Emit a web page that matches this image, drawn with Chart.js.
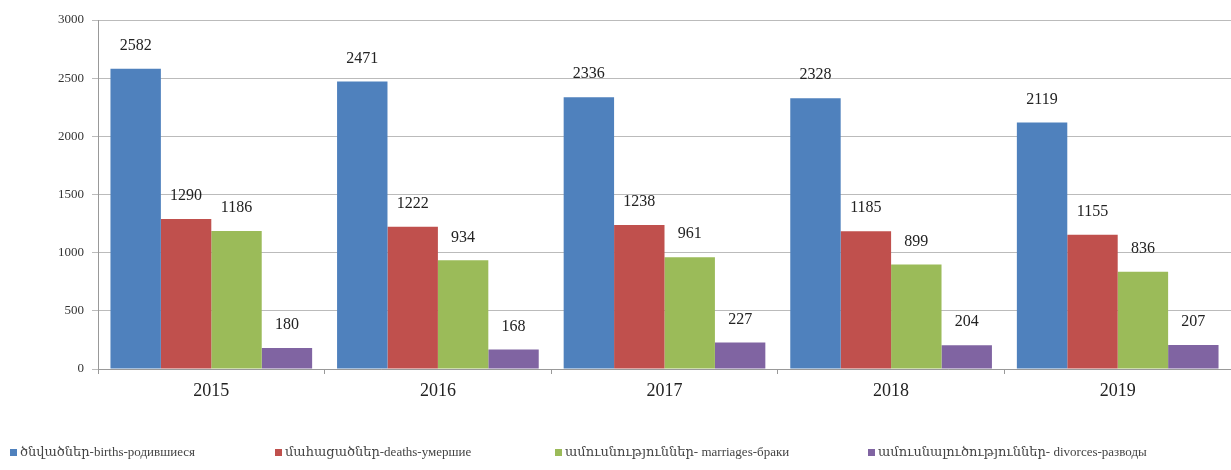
<!DOCTYPE html>
<html>
<head>
<meta charset="utf-8">
<script src="https://cdn.jsdelivr.net/npm/chart.js@4"></script>
<style>
  html, body { margin: 0; padding: 0; background: #fff; }
  #wrap { position: relative; width: 1231px; height: 470px; }
</style>
</head>
<body>
<div id="wrap"><canvas id="grafico"></canvas></div>
<script>
const anos = ['2015', '2016', '2017', '2018', '2019'];
const nascimentos = [2582, 2471, 2336, 2328, 2119];
const obitos = [1290, 1222, 1238, 1185, 1155];
const casamentos = [1186, 934, 961, 899, 836];
const divorcios = [180, 168, 227, 204, 207];
const rotulos = [
    'ծնվածներ-births-родившиеся',
    'մահացածներ-deaths-умершие',
    'ամուսնություններ- marriages-браки',
    'ամուսնալուծություններ- divorces-разводы'
];
const ticksY = [0, 500, 1000, 1500, 2000, 2500, 3000];

const fonteSerif = "'Liberation Serif', 'Times New Roman', 'DejaVu Serif', serif";

// rótulos de valor acima de cada barra
const valoresPlugin = {
    id: 'valores',
    afterDatasetsDraw(chart) {
        const ctx = chart.ctx;
        ctx.save();
        ctx.font = '16px ' + fonteSerif;
        ctx.fillStyle = '#222';
        ctx.textAlign = 'center';
        ctx.textBaseline = 'bottom';
        chart.data.datasets.forEach((ds, i) => {
            chart.getDatasetMeta(i).data.forEach((bar, j) => {
                ctx.fillText(ds.data[j], bar.x, bar.y - 15);
            });
        });
        ctx.restore();
    }
};

// legenda desenhada embaixo, com posições parecidas com o original
const legendaPlugin = {
    id: 'legenda',
    afterDraw(chart) {
        const ctx = chart.ctx;
        const posX = [10, 275, 555, 868];
        const y = 453;
        ctx.save();
        ctx.font = '13px ' + fonteSerif;
        ctx.textBaseline = 'middle';
        ctx.textAlign = 'left';
        chart.data.datasets.forEach((ds, i) => {
            ctx.fillStyle = ds.backgroundColor;
            ctx.fillRect(posX[i], y - 4, 7, 7);
            ctx.fillStyle = '#444';
            ctx.fillText(ds.label, posX[i] + 10, y);
        });
        ctx.restore();
    }
};

const ctx = document.getElementById('grafico');
new Chart(ctx, {
    type: 'bar',
    data: {
        labels: anos,
        datasets: [
            { label: rotulos[0], data: nascimentos, backgroundColor: '#4F81BD' },
            { label: rotulos[1], data: obitos, backgroundColor: '#C0504D' },
            { label: rotulos[2], data: casamentos, backgroundColor: '#9BBB59' },
            { label: rotulos[3], data: divorcios, backgroundColor: '#8064A2' }
        ]
    },
    options: {
        responsive: true,
        maintainAspectRatio: false,
        animation: false,
        layout: { padding: { top: 20, left: 0, right: 0, bottom: 61 } },
        datasets: { bar: { categoryPercentage: 0.89, barPercentage: 1.0 } },
        plugins: {
            tooltip: { enabled: false },
            legend: { display: false }
        },
        scales: {
            x: {
                grid: {
                    drawOnChartArea: false,
                    tickLength: 5,
                    color: '#999',
                    offset: true
                },
                border: { color: '#999' },
                ticks: {
                    color: '#222',
                    padding: 6,
                    font: { family: fonteSerif, size: 18 }
                },
                afterFit(axis) { axis.height = 40; }
            },
            y: {
                min: 0,
                max: 3000,
                afterBuildTicks(axis) { axis.ticks = ticksY.map(v => ({ value: v })); },
                grid: { color: '#bbb', tickLength: 6 },
                border: { color: '#999' },
                ticks: {
                    color: '#333',
                    padding: 8,
                    font: { family: fonteSerif, size: 13 },
                    callback: (v) => String(v)
                },
                afterFit(axis) { axis.width = 98; }
            }
        }
    },
    plugins: [valoresPlugin, legendaPlugin]
});
</script>
</body>
</html>
